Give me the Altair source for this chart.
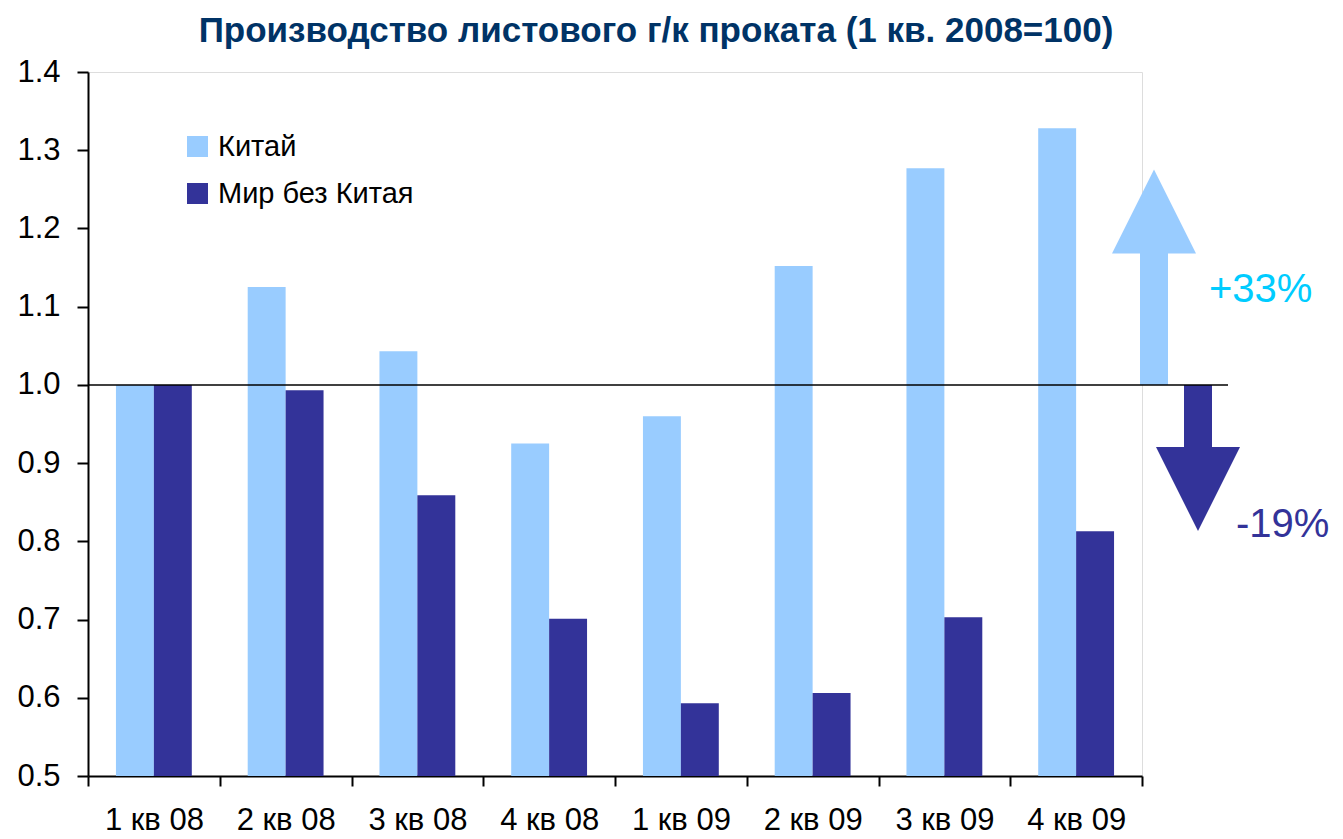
import altair as alt
import pandas as pd

quarters = ["1 кв 08", "2 кв 08", "3 кв 08", "4 кв 08", "1 кв 09", "2 кв 09", "3 кв 09", "4 кв 09"]
series_names = ["Китай", "Мир без Китая"]
china = [1.000, 1.125, 1.043, 0.925, 0.960, 1.152, 1.277, 1.328]
world = [1.000, 0.993, 0.859, 0.701, 0.593, 0.606, 0.703, 0.813]
colors = ["#99CCFF", "#333399"]
y_ticks = [0.5, 0.6, 0.7, 0.8, 0.9, 1.0, 1.1, 1.2, 1.3, 1.4]
up_label = "+33%"
down_label = "-19%"

rows = []
for q, c, w in zip(quarters, china, world):
    rows.append({"quarter": q, "series": series_names[0], "value": c})
    rows.append({"quarter": q, "series": series_names[1], "value": w})
df = pd.DataFrame(rows)

FONT = "Liberation Sans"
yscale = alt.Scale(domain=[0.5, 1.4], nice=False, zero=False)

bars = alt.Chart(df).mark_bar().encode(
    x=alt.X("quarter:N", sort=quarters, title=None,
            scale=alt.Scale(paddingInner=0, paddingOuter=0),
            axis=alt.Axis(labelAngle=0, labelFontSize=31, labelFont=FONT, labelColor="black",
                          tickBand="extent", tickSize=10, tickWidth=2, tickColor="black",
                          domainColor="black", domainWidth=2, labelPadding=19)),
    xOffset=alt.XOffset("series:N", sort=series_names,
                        scale=alt.Scale(paddingInner=0, paddingOuter=0.737)),
    y=alt.Y("value:Q", scale=yscale, title=None,
            axis=alt.Axis(values=y_ticks, format=".1f", labelFontSize=31, labelFont=FONT,
                          labelColor="black", tickSize=11, tickWidth=2, tickColor="black",
                          domainColor="black", domainWidth=2, grid=False, labelPadding=17)),
    y2=alt.datum(0.5),
    color=alt.Color("series:N", sort=series_names,
                    scale=alt.Scale(domain=series_names, range=colors),
                    legend=alt.Legend(title=None, orient="none", legendX=95, legendY=60,
                                      symbolType="square", symbolSize=441, symbolStrokeWidth=0,
                                      labelFontSize=29, labelFont=FONT, labelColor="black",
                                      labelLimit=0, labelOffset=6, rowPadding=17, padding=0)),
)

up_shaft = alt.Chart().mark_rect(color=colors[0]).encode(
    x=alt.value(1052), x2=alt.value(1080), y=alt.datum(1.0), y2=alt.datum(1.169))
up_head = alt.Chart().mark_point(shape="M-1,1L1,1L0,-1Z", size=7056, filled=True,
                                 opacity=1, strokeWidth=0, color=colors[0]).encode(
    x=alt.value(1066), y=alt.datum(1.2217))
down_shaft = alt.Chart().mark_rect(color=colors[1]).encode(
    x=alt.value(1096), x2=alt.value(1124), y=alt.datum(1.0), y2=alt.datum(0.919))
down_head = alt.Chart().mark_point(shape="M-1,-1L1,-1L0,1Z", size=7056, filled=True,
                                   opacity=1, strokeWidth=0, color=colors[1]).encode(
    x=alt.value(1110), y=alt.datum(0.8669))
up_text = alt.Chart().mark_text(align="left", baseline="alphabetic", fontSize=40, font=FONT,
                                color="#00CCFF").encode(
    x=alt.value(1121), y=alt.datum(1.106), text=alt.value(up_label))
down_text = alt.Chart().mark_text(align="left", baseline="alphabetic", fontSize=40, font=FONT,
                                  color="#333399").encode(
    x=alt.value(1148), y=alt.datum(0.8055), text=alt.value(down_label))
base_line = alt.Chart().mark_rule(color="black", strokeWidth=1.5).encode(
    x=alt.value(0), x2=alt.value(1140), y=alt.datum(1.0))

chart = alt.layer(bars, up_shaft, up_head, down_shaft, down_head, up_text, down_text, base_line).properties(
    width=1054, height=704,
    title=alt.Title("Производство листового г/к проката (1 кв. 2008=100)", fontSize=35, font=FONT,
                    fontWeight="bold", color="#003366", anchor="middle", dx=41, offset=7),
    autosize=alt.AutoSizeParams(type="none"),
    padding={"left": 80, "top": 64, "right": 193, "bottom": 63},
).configure_view(stroke=None).configure(background="white")

chart.save("out.html", embed_options={"renderer": "svg", "actions": False})
